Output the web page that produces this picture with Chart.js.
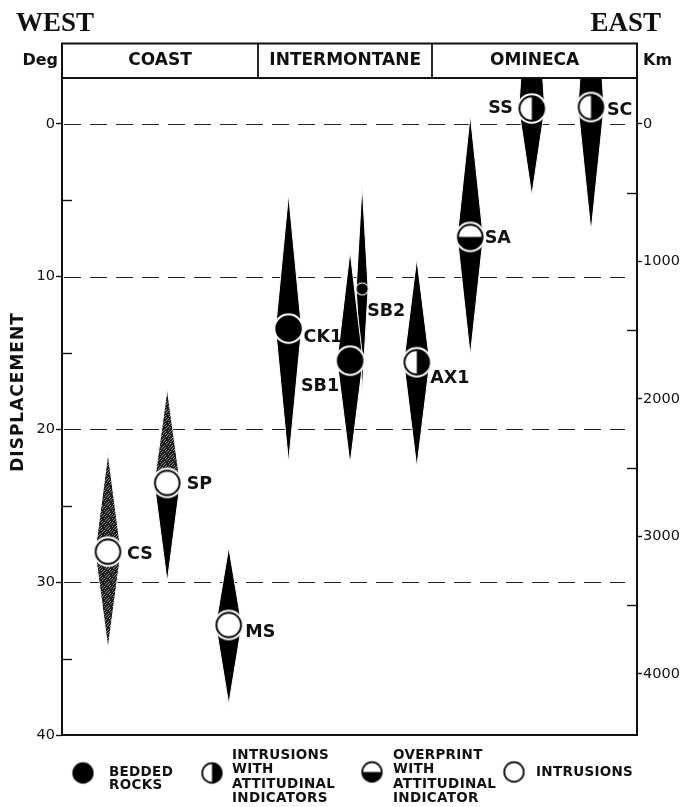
<!DOCTYPE html>
<html>
<head>
<meta charset="utf-8">
<script src="https://cdn.jsdelivr.net/npm/chart.js@4.4.0/dist/chart.umd.min.js"></script>
<style>
  html, body { margin: 0; padding: 0; background: #fff; }
  #wrap { width: 690px; height: 807px; position: relative; }
</style>
</head>
<body>
<div id="wrap"><canvas id="chart" width="690" height="807"></canvas></div>
<script>
// ---- Sample sites, west to east ----
const samples = ['CS', 'SP', 'MS', 'CK1', 'SB1', 'SB2', 'AX1', 'SA', 'SS', 'SC'];
// position along the west-east profile (0 = west edge, 100 = east edge)
const profilePos = [8.0, 18.3, 29.0, 39.4, 50.1, 52.2, 61.7, 71.0, 81.7, 92.0];
// northward displacement (degrees): best estimate
const displacement = [28.0, 23.5, 32.8, 13.4, 15.5, 10.8, 15.6, 7.4, -1.0, -1.1];
// confidence limits (degrees)
const limitUpper = [21.5, 17.3, 27.7, 4.6, 8.3, 3.9, 8.8, -0.6, -14, -14];
const limitLower = [34.4, 30.0, 38.0, 22.2, 22.3, 17.6, 22.5, 15.2, 4.7, 7.1];
// kind of rock sampled at each site
const rockType = ['intrusion', 'intrusion', 'intrusion', 'bedded', 'bedded', 'bedded',
                  'attitude', 'overprint', 'attitude', 'attitude'];

// ---- Morphogeological belts ----
const belts = ['COAST', 'INTERMONTANE', 'OMINECA'];
const beltEdges = [0, 34.1, 64.4, 100];

// ---- Axes ----
const KM_PER_DEG = 111.1;
const degTickValues = [0, 5, 10, 15, 20, 25, 30, 35, 40];
const degLabels = [0, 10, 20, 30, 40];
const kmTickValues = [0, 500, 1000, 1500, 2000, 2500, 3000, 3500, 4000];
const kmLabels = [0, 1000, 2000, 3000, 4000];
const gridValues = [0, 10, 20, 30];

// ---- Legend ----
const legendKinds = ['bedded', 'attitude', 'overprint', 'intrusion'];
const legendText = [
  ['BEDDED', 'ROCKS'],
  ['INTRUSIONS', 'WITH', 'ATTITUDINAL', 'INDICATORS'],
  ['OVERPRINT', 'WITH', 'ATTITUDINAL', 'INDICATOR'],
  ['INTRUSIONS']
];

// ---------------- styling ----------------
const INK = '#111';
const SANS = '"DejaVu Sans", sans-serif';
const SERIF = '"Liberation Serif", "Times New Roman", serif';

// shading of the upper / lower half of each spindle
const spindleShade = { CS: ['stipple', 'stipple'], SP: ['stipple', 'solid'] };
// sites drawn with a slender spindle and small symbol
const slenderSites = { SB2: 0.46 };
// label placement relative to the symbol centre: [dx, dy, align]
const labelPlace = {
  CS: [19, 2.5, 'left'], SP: [19.5, 2, 'left'], MS: [16.5, 7.5, 'left'],
  CK1: [15, 9, 'left'], SB1: [-11, 26, 'right'], SB2: [5, 22.5, 'left'],
  AX1: [13.5, 16.5, 'left'], SA: [14.5, 2, 'left'], SS: [-19, 0, 'right'],
  SC: [16, 3.5, 'left']
};
const legendLayout = [
  { mx: 83,  my: 773, tx: 109, ty: 772, lh: 13 },
  { mx: 212, my: 773, tx: 232, ty: 755, lh: 14.5 },
  { mx: 372, my: 772, tx: 393, ty: 755, lh: 14.5 },
  { mx: 514, my: 772, tx: 536, ty: 772, lh: 14 }
];

// grainy grey fill used for the stippled spindles
function makeStipple() {
  const rows = [
    '10110111',
    '11101101',
    '01111011',
    '11011110',
    '10111101',
    '11110111',
    '01101111',
    '11011011'
  ];
  const c = document.createElement('canvas');
  c.width = c.height = 8;
  const g = c.getContext('2d');
  g.fillStyle = '#8a8a8a';
  g.fillRect(0, 0, 8, 8);
  g.fillStyle = '#1a1a1a';
  rows.forEach((row, j) => [...row].forEach((ch, i) => { if (ch === '1') g.fillRect(i, j, 1, 1); }));
  return c;
}

// round symbol: filled, split vertically, split horizontally, or open
function makeMarker(kind, r, ring, lw) {
  const size = Math.ceil(2 * (r + ring + lw)) + 2;
  const c = document.createElement('canvas');
  c.width = c.height = size;
  const g = c.getContext('2d');
  const m = size / 2;
  if (ring > 0) {
    g.fillStyle = '#fff';
    g.beginPath(); g.arc(m, m, r + ring, 0, 2 * Math.PI); g.fill();
  }
  g.fillStyle = '#fff';
  g.beginPath(); g.arc(m, m, r, 0, 2 * Math.PI); g.fill();
  g.fillStyle = '#000';
  if (kind === 'bedded') {
    g.beginPath(); g.arc(m, m, r, 0, 2 * Math.PI); g.fill();
  } else if (kind === 'attitude') {
    g.beginPath(); g.moveTo(m, m - r); g.arc(m, m, r, -Math.PI / 2, Math.PI / 2); g.closePath(); g.fill();
  } else if (kind === 'overprint') {
    g.beginPath(); g.moveTo(m + r, m); g.arc(m, m, r, 0, Math.PI); g.closePath(); g.fill();
  }
  g.lineWidth = lw;
  g.strokeStyle = '#000';
  g.beginPath(); g.arc(m, m, r, 0, 2 * Math.PI); g.stroke();
  return c;
}

const stippleCanvas = makeStipple();
const siteMarkers = samples.map((s, i) =>
  slenderSites[s] ? makeMarker(rockType[i], 5, 1.6, 1.2) : makeMarker(rockType[i], 12.3, 3, 1.9));
const legendMarkers = legendKinds.map(k => makeMarker(k, 9.8, 0, 1.7));

// spindles: drawn as diamonds from the floating bar elements
const spindlePlugin = {
  id: 'spindles',
  beforeDatasetDraw(chart, args) {
    if (args.index !== 0) return;
    const { ctx, chartArea: a } = chart;
    const yScale = chart.scales.y;
    const pattern = ctx.createPattern(stippleCanvas, 'repeat');
    ctx.save();
    ctx.beginPath();
    ctx.rect(a.left, a.top, a.right - a.left, a.bottom - a.top);
    ctx.clip();
    const els = args.meta.data;
    for (let i = els.length - 1; i >= 0; i--) {
      const el = els[i];
      const name = samples[i];
      const cx = el.x;
      const top = Math.min(el.y, el.base);
      const bot = Math.max(el.y, el.base);
      const cy = yScale.getPixelForValue(displacement[i]);
      const hw = (el.width / 2) * (slenderSites[name] || 1);
      const shade = spindleShade[name] || ['solid', 'solid'];
      const fillOf = s => (s === 'stipple' ? pattern : '#000');
      ctx.beginPath();
      ctx.moveTo(cx, top); ctx.lineTo(cx + hw, cy); ctx.lineTo(cx - hw, cy); ctx.closePath();
      ctx.fillStyle = fillOf(shade[0]); ctx.fill();
      ctx.beginPath();
      ctx.moveTo(cx - hw, cy); ctx.lineTo(cx + hw, cy); ctx.lineTo(cx, bot); ctx.closePath();
      ctx.fillStyle = fillOf(shade[1]); ctx.fill();
      ctx.beginPath();
      ctx.moveTo(cx, top); ctx.lineTo(cx + hw, cy); ctx.lineTo(cx, bot); ctx.lineTo(cx - hw, cy); ctx.closePath();
      ctx.strokeStyle = '#fff'; ctx.lineWidth = 1; ctx.stroke();
    }
    ctx.restore();
    return false;
  }
};

// dashed reference lines, inward minor ticks, header band, titles, labels, legend
const framePlugin = {
  id: 'frame',
  beforeDatasetsDraw(chart) {
    const { ctx, chartArea: a, scales } = chart;
    ctx.save();
    ctx.strokeStyle = '#222';
    ctx.lineWidth = 1.2;
    ctx.setLineDash([17, 9]);
    gridValues.forEach(v => {
      const y = Math.round(scales.y.getPixelForValue(v)) + 0.5;
      ctx.beginPath(); ctx.moveTo(a.left + 2, y); ctx.lineTo(a.right - 12, y); ctx.stroke();
    });
    ctx.setLineDash([]);
    ctx.lineWidth = 1.4;
    ctx.strokeStyle = INK;
    scales.y.ticks.forEach(t => {
      if (degLabels.includes(t.value)) return;
      const y = Math.round(scales.y.getPixelForValue(t.value)) + 0.5;
      ctx.beginPath(); ctx.moveTo(a.left, y); ctx.lineTo(a.left + 10, y); ctx.stroke();
    });
    scales.y2.ticks.forEach(t => {
      if (kmLabels.includes(t.value)) return;
      const y = Math.round(scales.y2.getPixelForValue(t.value)) + 0.5;
      ctx.beginPath(); ctx.moveTo(a.right - 10, y); ctx.lineTo(a.right, y); ctx.stroke();
    });
    ctx.restore();
  },
  afterDatasetsDraw(chart) {
    const { ctx } = chart;
    const meta = chart.getDatasetMeta(1);
    ctx.save();
    ctx.fillStyle = INK;
    ctx.font = 'bold 17.5px ' + SANS;
    ctx.textBaseline = 'middle';
    meta.data.forEach((pt, i) => {
      const [dx, dy, align] = labelPlace[samples[i]];
      ctx.textAlign = align;
      ctx.fillText(samples[i], pt.x + dx, pt.y + dy);
    });
    ctx.restore();
  },
  afterDraw(chart) {
    const { ctx, chartArea: a, scales } = chart;
    const hTop = 43.5;
    ctx.save();
    // header band
    ctx.strokeStyle = INK;
    ctx.lineWidth = 2;
    ctx.beginPath();
    ctx.moveTo(a.left, a.top); ctx.lineTo(a.left, hTop); ctx.lineTo(a.right, hTop); ctx.lineTo(a.right, a.top);
    ctx.stroke();
    ctx.beginPath(); ctx.moveTo(a.left, a.top); ctx.lineTo(a.right, a.top); ctx.stroke();
    ctx.lineWidth = 1.8;
    beltEdges.slice(1, -1).forEach(v => {
      const x = Math.round(scales.x.getPixelForValue(v));
      ctx.beginPath(); ctx.moveTo(x, hTop); ctx.lineTo(x, a.top); ctx.stroke();
    });
    ctx.fillStyle = INK;
    ctx.textBaseline = 'middle';
    ctx.textAlign = 'center';
    ctx.font = 'bold 17px ' + SANS;
    belts.forEach((b, i) => {
      const x0 = scales.x.getPixelForValue(beltEdges[i]);
      const x1 = scales.x.getPixelForValue(beltEdges[i + 1]);
      ctx.fillText(b, (x0 + x1) / 2, 61);
    });
    // unit captions
    ctx.font = 'bold 16px ' + SANS;
    ctx.textAlign = 'right';
    ctx.fillText('Deg', a.left - 4, 61);
    ctx.textAlign = 'left';
    ctx.fillText('Km', a.right + 6, 61);
    // compass headings
    ctx.font = 'bold 27px ' + SERIF;
    ctx.textBaseline = 'alphabetic';
    ctx.textAlign = 'left';
    ctx.fillText('WEST', 16, 31);
    ctx.textAlign = 'right';
    ctx.fillText('EAST', 661, 31);
    // vertical axis title
    ctx.save();
    ctx.translate(19, 392);
    ctx.rotate(-Math.PI / 2);
    ctx.font = 'bold 17px ' + SANS;
    ctx.letterSpacing = '1px';
    ctx.textAlign = 'center';
    ctx.textBaseline = 'middle';
    ctx.fillText('DISPLACEMENT', 0, 0);
    ctx.restore();
    // legend
    ctx.font = 'bold 13.5px ' + SANS;
    ctx.letterSpacing = '0.3px';
    ctx.textAlign = 'left';
    ctx.textBaseline = 'middle';
    legendKinds.forEach((k, i) => {
      const L = legendLayout[i];
      const img = legendMarkers[i];
      ctx.drawImage(img, L.mx - img.width / 2, L.my - img.height / 2);
      legendText[i].forEach((line, j) => ctx.fillText(line, L.tx, L.ty + j * L.lh));
    });
    ctx.restore();
  }
};

const chart = new Chart(document.getElementById('chart'), {
  type: 'bar',
  data: {
    datasets: [
      {
        type: 'bar',
        label: 'Confidence limits',
        data: samples.map((s, i) => ({ x: profilePos[i], y: [limitUpper[i], limitLower[i]] })),
        backgroundColor: '#000',
        barThickness: 26,
        yAxisID: 'y',
        order: 2
      },
      {
        type: 'line',
        label: 'Displacement',
        data: samples.map((s, i) => ({ x: profilePos[i], y: displacement[i] })),
        showLine: false,
        pointStyle: siteMarkers,
        pointRadius: 10,
        yAxisID: 'y',
        order: 1
      }
    ]
  },
  options: {
    responsive: false,
    devicePixelRatio: 1,
    animation: false,
    events: [],
    layout: { padding: { top: 78, bottom: 72, left: 0, right: 0 } },
    plugins: { legend: { display: false }, tooltip: { enabled: false } },
    scales: {
      x: {
        type: 'linear', min: 0, max: 100, offset: false,
        ticks: { display: false },
        grid: { display: false },
        border: { display: true, color: INK, width: 2 },
        afterFit: s => { s.height = 0; }
      },
      y: {
        type: 'linear', position: 'left', reverse: true, min: -3, max: 40,
        afterBuildTicks: s => { s.ticks = degTickValues.map(v => ({ value: v })); },
        afterFit: s => { s.width = 62; },
        ticks: {
          autoSkip: false, maxRotation: 0, padding: 1, color: INK,
          font: { family: SANS, size: 14.5 },
          callback: v => (degLabels.includes(v) ? String(v) : '')
        },
        grid: {
          drawOnChartArea: false, tickLength: 6, tickWidth: 1.4,
          tickColor: c => (c.tick && degLabels.includes(c.tick.value) ? INK : 'rgba(0,0,0,0)')
        },
        border: { display: true, color: INK, width: 2 }
      },
      y2: {
        type: 'linear', position: 'right', reverse: true,
        min: -3 * KM_PER_DEG, max: 40 * KM_PER_DEG,
        afterBuildTicks: s => { s.ticks = kmTickValues.map(v => ({ value: v })); },
        afterFit: s => { s.width = 53; },
        ticks: {
          autoSkip: false, maxRotation: 0, padding: 1, color: INK,
          font: { family: SANS, size: 14.5 },
          callback: v => (kmLabels.includes(v) ? String(v) : '')
        },
        grid: {
          drawOnChartArea: false, tickLength: 5, tickWidth: 1.4,
          tickColor: c => (c.tick && kmLabels.includes(c.tick.value) ? INK : 'rgba(0,0,0,0)')
        },
        border: { display: true, color: INK, width: 2 }
      }
    }
  },
  plugins: [spindlePlugin, framePlugin]
});
</script>
</body>
</html>
